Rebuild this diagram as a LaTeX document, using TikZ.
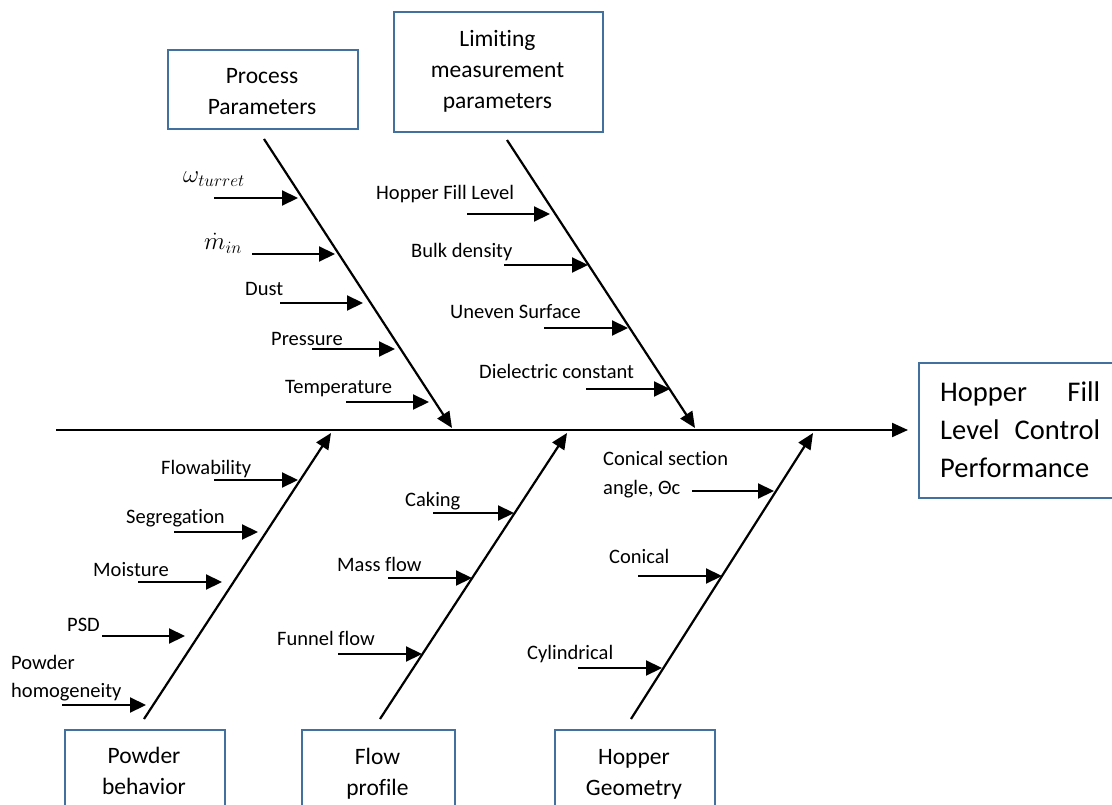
\documentclass[tikz,border=0pt]{standalone}
\usepackage{fontspec}
\setmainfont{Carlito}[Ligatures=NoCommon]
\usetikzlibrary{arrows.meta}
\definecolor{boxblue}{RGB}{65,113,156}
\tikzset{
  bone/.style={line width=2.2pt, -{Triangle[length=16pt,width=14pt]}},
  cause/.style={line width=2.2pt, -{Triangle[length=16pt,width=15pt]}},
  catbox/.style={draw=boxblue, line width=1.8pt, inner sep=0pt, anchor=north west},
  cattext/.style={font=\fontsize{23.5}{31}\selectfont, align=center, inner sep=0pt},
  lbl/.style={font=\fontsize{20.5}{28.5}\selectfont, inner sep=0pt, anchor=base west},
  mlbl/.style={font=\fontsize{20.5}{28.5}\selectfont, inner sep=0pt, anchor=west, align=left},
  mathlbl/.style={font=\fontsize{25}{28}\selectfont, inner sep=0pt, anchor=base west},
}
\begin{document}
\begin{tikzpicture}[x=1pt,y=-1pt]
\useasboundingbox (0,0) rectangle (1112,805);
\clip (0,0) rectangle (1112,805);

% category boxes
\node[catbox, minimum width=190pt, minimum height=79pt] (ppbox) at (167,49) {};
\node[cattext] (pptext) at (262,92) {Process\\Parameters};
\node[catbox, minimum width=209pt, minimum height=120pt] (lmbox) at (393,11) {};
\node[cattext] (lmtext) at (497.5,71) {Limiting\\measurement\\parameters};
\node[catbox, minimum width=160pt, minimum height=100pt] (pbbox) at (64,729) {};
\node[cattext] (pbtext) at (144,771) {Powder\\behavior};
\node[catbox, minimum width=153pt, minimum height=100pt] (fpbox) at (301,729) {};
\node[cattext] (fptext) at (377.5,773.5) {Flow\\profile};
\node[catbox, minimum width=160pt, minimum height=100pt] (hgbox) at (554,729) {};
\node[cattext] (hgtext) at (634,774) {Hopper\\Geometry};
\node[catbox, minimum width=220pt, minimum height=135pt] (effbox) at (918,362) {};
\node[anchor=west, inner sep=0pt, font=\fontsize{28.5}{38}\selectfont, align=left] (efftext) at (940,430)
  {\hbox to 160pt{Hopper\hfill Fill}\\\hbox to 160pt{Level\hfill Control}\\Performance};

% spine
\coordinate (sp0) at (56,430);
\coordinate (sp1) at (908,430);
\draw[bone] (sp0) -- (sp1);

% bones
\coordinate (ppA) at (264,139);  \coordinate (ppB) at (452,428);
\coordinate (lmA) at (507,140);  \coordinate (lmB) at (695,428);
\coordinate (pbA) at (144,719);  \coordinate (pbB) at (331,433);
\coordinate (fpA) at (380,719);  \coordinate (fpB) at (567,433);
\coordinate (hgA) at (631,719);  \coordinate (hgB) at (813,433);
\draw[bone] (ppA) -- (ppB);
\draw[bone] (lmA) -- (lmB);
\draw[bone] (pbA) -- (pbB);
\draw[bone] (fpA) -- (fpB);
\draw[bone] (hgA) -- (hgB);

% cause arrows
\foreach \n/\xa/\xb/\yy in {
  c1/214/298/198, c2/252/335/254, c3/280/363/303, c4/312/395/349, c5/346/429/402,
  c6/467/550/214, c7/504/588/265, c8/544/628/328, c9/586/670/389,
  c10/214/298/480, c11/174/258/532, c12/138/222/582, c13/102/185/636, c14/62/146/705,
  c15/433/514/513, c16/388/472/578, c17/338/422/654,
  c18/692/774/491, c19/638/722/576, c20/578/662/668}{
  \coordinate (\n s) at (\xa,\yy);
  \coordinate (\n e) at (\xb,\yy);
  \draw[cause] (\n s) -- (\n e);
}

% labels: process parameters
\node[mathlbl] (l1) at (183,183) {$\omega_{turret}$};
\node[mathlbl] (l2) at (204,250) {$\dot{m}_{in}$};
\node[lbl] (l3) at (245,296) {Dust};
\node[lbl] (l4) at (271,345) {Pressure};
\node[lbl] (l5) at (285,393) {Temperature};
% limiting measurement parameters
\node[lbl] (l6) at (376,200) {Hopper Fill Level};
\node[lbl] (l7) at (411,258) {Bulk density};
\node[lbl] (l8) at (450,319) {Uneven Surface};
\node[lbl] (l9) at (479,378) {Dielectric constant};
% powder behavior
\node[lbl] (l10) at (161,474) {Flowability};
\node[lbl] (l11) at (126,523) {Segregation};
\node[lbl] (l12) at (93,576) {Moisture};
\node[lbl] (l13) at (67,631) {PSD};
\node[mlbl] (l14) at (11,678) {Powder\\homogeneity};
% flow profile
\node[lbl] (l15) at (405,506) {Caking};
\node[lbl] (l16) at (337,571) {Mass flow};
\node[lbl] (l17) at (277,645) {Funnel flow};
% hopper geometry
\node[mlbl] (l18) at (603,474.5) {Conical section\\angle, Θc};
\node[lbl] (l19) at (609,563) {Conical};
\node[lbl] (l20) at (527,659) {Cylindrical};
\end{tikzpicture}
\end{document}
